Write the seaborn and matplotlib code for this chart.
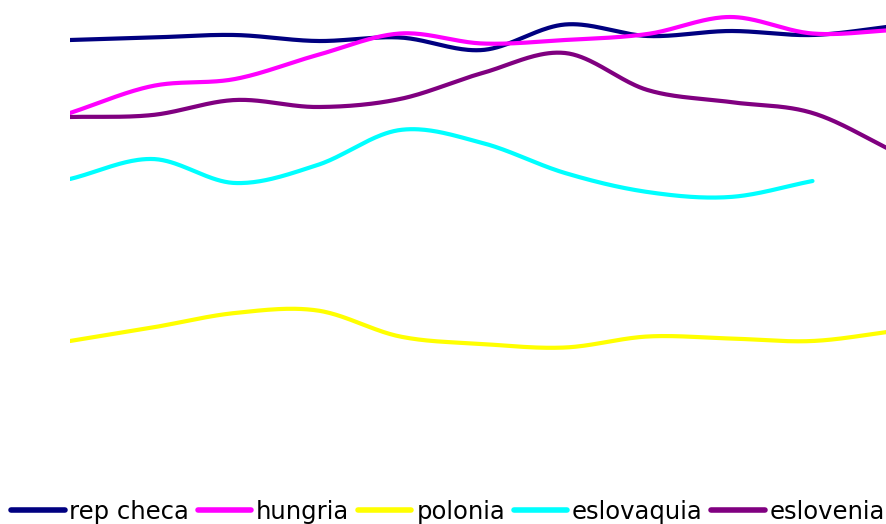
import numpy as np
import pandas as pd
import seaborn as sns
import matplotlib
matplotlib.use("Agg")
import matplotlib.pyplot as plt
from matplotlib.lines import Line2D

# Years on the horizontal axis (axis itself is hidden)
years = [2000, 2001, 2002, 2003, 2004, 2005, 2006, 2007, 2008, 2009, 2010]

rep_checa = [92.0, 92.5, 93.0, 91.8, 92.5, 90.0, 95.1, 92.8, 93.8, 93.0, 94.8]
hungria = [77.4, 82.8, 84.2, 89.0, 93.3, 91.3, 92.0, 93.2, 96.6, 93.3, 94.0]
polonia = [31.8, 34.5, 37.4, 37.9, 32.7, 31.2, 30.5, 32.7, 32.3, 31.8, 33.8]
eslovaquia = [64.2, 68.2, 63.4, 67.0, 74.0, 71.4, 65.4, 61.6, 60.6, 63.8, np.nan]
eslovenia = [76.6, 77.0, 80.0, 78.6, 80.2, 85.4, 89.4, 82.0, 79.6, 77.4, 69.6]

series_names = ["rep checa", "hungria", "polonia", "eslovaquia", "eslovenia"]
series_values = [rep_checa, hungria, polonia, eslovaquia, eslovenia]
colors = ["#000080", "#ff00ff", "#ffff00", "#00ffff", "#800080"]


def catmull_rom(x, y, n=40):
    """Smooth curve through the points (uniform Catmull-Rom spline)."""
    x = np.asarray(x, float)
    y = np.asarray(y, float)
    px = np.concatenate([[2 * x[0] - x[1]], x, [2 * x[-1] - x[-2]]])
    py = np.concatenate([[2 * y[0] - y[1]], y, [2 * y[-1] - y[-2]]])
    xs, ys = [], []
    t = np.linspace(0, 1, n, endpoint=False)
    for i in range(1, len(px) - 2):
        for p, out in ((px, xs), (py, ys)):
            p0, p1, p2, p3 = p[i - 1], p[i], p[i + 1], p[i + 2]
            out.append(0.5 * ((2 * p1) + (-p0 + p2) * t
                              + (2 * p0 - 5 * p1 + 4 * p2 - p3) * t ** 2
                              + (-p0 + 3 * p1 - 3 * p2 + p3) * t ** 3))
    xs.append([x[-1]])
    ys.append([y[-1]])
    return np.concatenate(xs), np.concatenate(ys)


frames = []
for name, vals in zip(series_names, series_values):
    s = pd.Series(vals, index=years, dtype=float).dropna()
    cx, cy = catmull_rom(s.index.values, s.values)
    frames.append(pd.DataFrame({"year": cx, "value": cy, "serie": name,
                                "order": np.arange(len(cx))}))
df = pd.concat(frames, ignore_index=True)

sns.set_theme(style="white")
plt.rcParams["font.family"] = ["DejaVu Sans"]
plt.rcParams["text.color"] = "black"

fig = plt.figure(figsize=(8.87, 5.24), dpi=100)
W, H = 887, 524
ax = fig.add_axes([70 / W, (H - 480) / H, 825 / W, 480 / H])

sns.lineplot(data=df, x="year", y="value", hue="serie", hue_order=series_names,
             palette=dict(zip(series_names, colors)), sort=False, estimator=None,
             units="serie", linewidth=3.0, legend=False, ax=ax)
for ln in ax.get_lines():
    ln.set_solid_capstyle("round")
    ln.set_solid_joinstyle("round")

ax.set_xlim(years[0], years[-1])
ax.set_ylim(4, 100)
ax.axis("off")

handles = [Line2D([], [], color=c, lw=4.0, solid_capstyle="round") for c in colors]
fig.legend(handles, series_names, loc="center", ncol=5,
           bbox_to_anchor=(448 / W, 12 / H), frameon=False, fontsize=17.5,
           labelcolor="black",
           handlelength=2.2, handletextpad=0.2, columnspacing=0.35,
           borderpad=0, borderaxespad=0)

fig.savefig("out.png", dpi=100)
